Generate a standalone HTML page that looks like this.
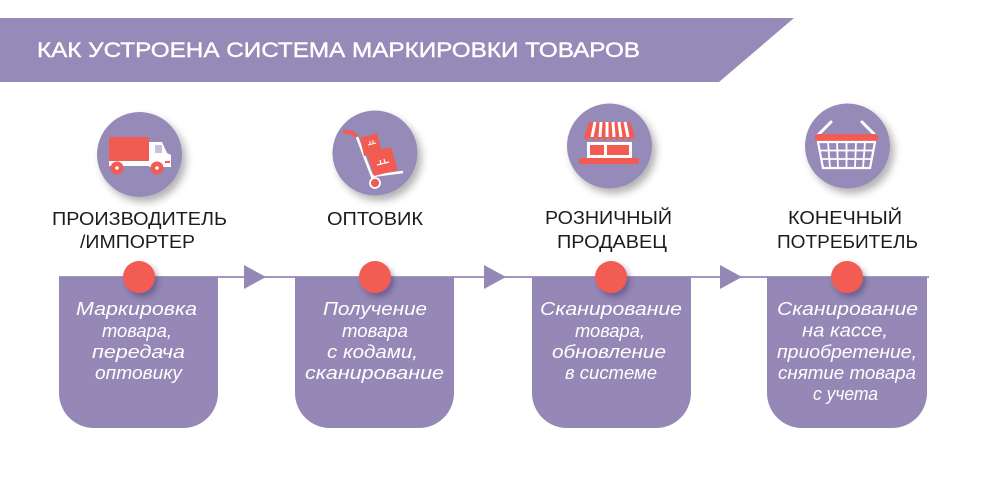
<!DOCTYPE html>
<html><head><meta charset="utf-8"><style>
html,body{margin:0;padding:0;background:#fff;}
svg{display:block;}
</style></head><body>
<svg width="1000" height="477" viewBox="0 0 1000 477" xmlns="http://www.w3.org/2000/svg">
<defs>
<filter id="sh" x="-30%" y="-30%" width="170%" height="170%">
<feDropShadow dx="4" dy="5" stdDeviation="4" flood-color="#000" flood-opacity="0.3"/>
</filter>
<filter id="sh2" x="-50%" y="-50%" width="200%" height="200%">
<feDropShadow dx="3" dy="4" stdDeviation="3" flood-color="#3a2a60" flood-opacity="0.45"/>
</filter>
</defs>
<!-- header -->
<polygon points="0,18 794,18 719,82 0,82" fill="#968ab8"/>
<text x="37" y="57" font-family="Liberation Sans, sans-serif" font-size="21" fill="#fff" stroke="#fff" stroke-width="0.4" textLength="603" lengthAdjust="spacingAndGlyphs">КАК УСТРОЕНА СИСТЕМА МАРКИРОВКИ ТОВАРОВ</text>

<!-- icon circles -->
<circle cx="139.5" cy="154.5" r="42.5" fill="#968ab8" filter="url(#sh)"/>
<circle cx="375" cy="153" r="42.5" fill="#968ab8" filter="url(#sh)"/>
<circle cx="609.5" cy="146" r="42.5" fill="#968ab8" filter="url(#sh)"/>
<circle cx="847.5" cy="146" r="42.5" fill="#968ab8" filter="url(#sh)"/>

<!-- truck -->
<g>
<rect x="109" y="137" width="40" height="24" fill="#f25b52"/>
<path d="M149,142 L162,142 L167,153 L171,155 L171,167 L149,167 Z" fill="#fff"/>
<rect x="155" y="145" width="7" height="8" fill="#c8c0dc"/>
<rect x="109" y="161" width="62" height="5" fill="#fff"/>
<rect x="165" y="161" width="5" height="2" fill="#f25b52"/>
<circle cx="117" cy="168" r="6.5" fill="#f25b52"/>
<circle cx="117" cy="168" r="1.8" fill="#fff"/>
<circle cx="157" cy="168" r="6.5" fill="#f25b52"/>
<circle cx="157" cy="168" r="1.8" fill="#fff"/>
</g>

<!-- trolley -->
<g>
<path d="M345,132 Q352,131 357,137" stroke="#f25b52" stroke-width="4" fill="none" stroke-linecap="round"/>
<line x1="357" y1="137" x2="373" y2="179" stroke="#fff" stroke-width="2.5"/>
<line x1="372" y1="176" x2="403" y2="172" stroke="#fff" stroke-width="2.5"/>
<polygon points="360,138 377,133 382,152 364,156" fill="#f25b52"/>
<polygon points="367,153 391,147 398,170 374,176" fill="#f25b52"/>
<path d="M368,145 l8,-2 M370,141 l0,3 M373,140 l0,3" stroke="#fff" stroke-width="1"/>
<path d="M377,165 l12,-3 M380,160 l1,4 M384,159 l1,4" stroke="#fff" stroke-width="1.2"/>
<circle cx="375" cy="183" r="5" fill="#f25b52" stroke="#fff" stroke-width="1.8"/>
</g>

<!-- store -->
<g>
<polygon points="589,122 630,122 635,137 584,137" fill="#f25b52"/>
<path d="M595,122 L592,137 M601,122 L600,137 M607,122 L607,137 M613,122 L614,137 M619,122 L621,137 M625,122 L628,137" stroke="#fff" stroke-width="3"/>
<path d="M584,137 Q587,143 590,137 Q593,143 596,137 Q599,143 602,137 Q605,143 608,137 Q611,143 614,137 Q617,143 620,137 Q623,143 626,137 Q629,143 632,137 Q634,142 635,137 Z" fill="#f25b52"/>
<rect x="587" y="142" width="45" height="16" fill="#fff"/>
<rect x="590" y="145" width="14" height="10" fill="#f25b52"/>
<rect x="607" y="145" width="22" height="10" fill="#f25b52"/>
<rect x="579" y="158" width="60" height="6" rx="2" fill="#f25b52"/>
</g>

<!-- basket -->
<g>
<line x1="831" y1="122" x2="818" y2="135" stroke="#fff" stroke-width="3" stroke-linecap="round"/>
<line x1="862" y1="122" x2="875" y2="135" stroke="#fff" stroke-width="3" stroke-linecap="round"/>
<rect x="815" y="134" width="63" height="8" rx="3" fill="#f25b52"/>
<polygon points="818,142 875,142 870,168 823,168" fill="none" stroke="#fff" stroke-width="2.2"/>
<g stroke="#fff" stroke-width="1.8">
<line x1="819" y1="150.5" x2="874" y2="150.5"/>
<line x1="821" y1="159" x2="872" y2="159"/>
<line x1="828" y1="142" x2="830" y2="168"/>
<line x1="837" y1="142" x2="838" y2="168"/>
<line x1="846.5" y1="142" x2="846.5" y2="168"/>
<line x1="856" y1="142" x2="855" y2="168"/>
<line x1="865" y1="142" x2="863" y2="168"/>
</g>
</g>

<!-- labels -->
<g font-family="Liberation Sans, sans-serif" font-size="18" fill="#1c1c1c" lengthAdjust="spacingAndGlyphs">
<text x="52" y="225" textLength="175" lengthAdjust="spacingAndGlyphs">ПРОИЗВОДИТЕЛЬ</text>
<text x="80" y="248" textLength="115" lengthAdjust="spacingAndGlyphs">/ИМПОРТЕР</text>
<text x="327" y="225" textLength="96" lengthAdjust="spacingAndGlyphs">ОПТОВИК</text>
<text x="545" y="224" textLength="127" lengthAdjust="spacingAndGlyphs">РОЗНИЧНЫЙ</text>
<text x="557" y="248" textLength="110" lengthAdjust="spacingAndGlyphs">ПРОДАВЕЦ</text>
<text x="788" y="224" textLength="114" lengthAdjust="spacingAndGlyphs">КОНЕЧНЫЙ</text>
<text x="777" y="248" textLength="141" lengthAdjust="spacingAndGlyphs">ПОТРЕБИТЕЛЬ</text>
</g>

<!-- timeline line -->
<line x1="59" y1="277" x2="929" y2="277" stroke="#a397c4" stroke-width="2"/>

<!-- boxes -->
<g fill="#9588b6">
<path d="M59,277 H218 V393 A35,35 0 0 1 183,428 H94 A35,35 0 0 1 59,393 Z"/>
<path d="M295,277 H454 V393 A35,35 0 0 1 419,428 H330 A35,35 0 0 1 295,393 Z"/>
<path d="M532,277 H691 V393 A35,35 0 0 1 656,428 H567 A35,35 0 0 1 532,393 Z"/>
<path d="M767,277 H927 V393 A35,35 0 0 1 892,428 H802 A35,35 0 0 1 767,393 Z"/>
</g>

<!-- arrows -->
<g fill="#9588b6">
<polygon points="244,265 244,289 266,277"/>
<polygon points="484,265 484,289 506,277"/>
<polygon points="720,265 720,289 742,277"/>
</g>

<!-- red dots -->
<g fill="#f25b52" filter="url(#sh2)">
<circle cx="139" cy="277" r="16"/>
<circle cx="375" cy="277" r="16"/>
<circle cx="611" cy="277" r="16"/>
<circle cx="847" cy="277" r="16"/>
</g>

<!-- box text -->
<g font-family="Liberation Sans, sans-serif" font-style="italic" font-size="18" fill="#fff">
<text x="76" y="315" textLength="121" lengthAdjust="spacingAndGlyphs">Маркировка</text>
<text x="102" y="337" textLength="70" lengthAdjust="spacingAndGlyphs">товара,</text>
<text x="92" y="358" textLength="93" lengthAdjust="spacingAndGlyphs">передача</text>
<text x="95" y="379" textLength="87" lengthAdjust="spacingAndGlyphs">оптовику</text>

<text x="323" y="315" textLength="104" lengthAdjust="spacingAndGlyphs">Получение</text>
<text x="342" y="337" textLength="66" lengthAdjust="spacingAndGlyphs">товара</text>
<text x="327" y="358" textLength="91" lengthAdjust="spacingAndGlyphs">с кодами,</text>
<text x="305" y="379" textLength="139" lengthAdjust="spacingAndGlyphs">сканирование</text>

<text x="540" y="315" textLength="142" lengthAdjust="spacingAndGlyphs">Сканирование</text>
<text x="575" y="337" textLength="70" lengthAdjust="spacingAndGlyphs">товара,</text>
<text x="552" y="358" textLength="114" lengthAdjust="spacingAndGlyphs">обновление</text>
<text x="565" y="379" textLength="92" lengthAdjust="spacingAndGlyphs">в системе</text>

<text x="777" y="315" textLength="141" lengthAdjust="spacingAndGlyphs">Сканирование</text>
<text x="802" y="336.5" textLength="86" lengthAdjust="spacingAndGlyphs">на кассе,</text>
<text x="777" y="358" textLength="140" lengthAdjust="spacingAndGlyphs">приобретение,</text>
<text x="778" y="379" textLength="138" lengthAdjust="spacingAndGlyphs">снятие товара</text>
<text x="813" y="400" textLength="65" lengthAdjust="spacingAndGlyphs">с учета</text>
</g>
</svg>
</body></html>
